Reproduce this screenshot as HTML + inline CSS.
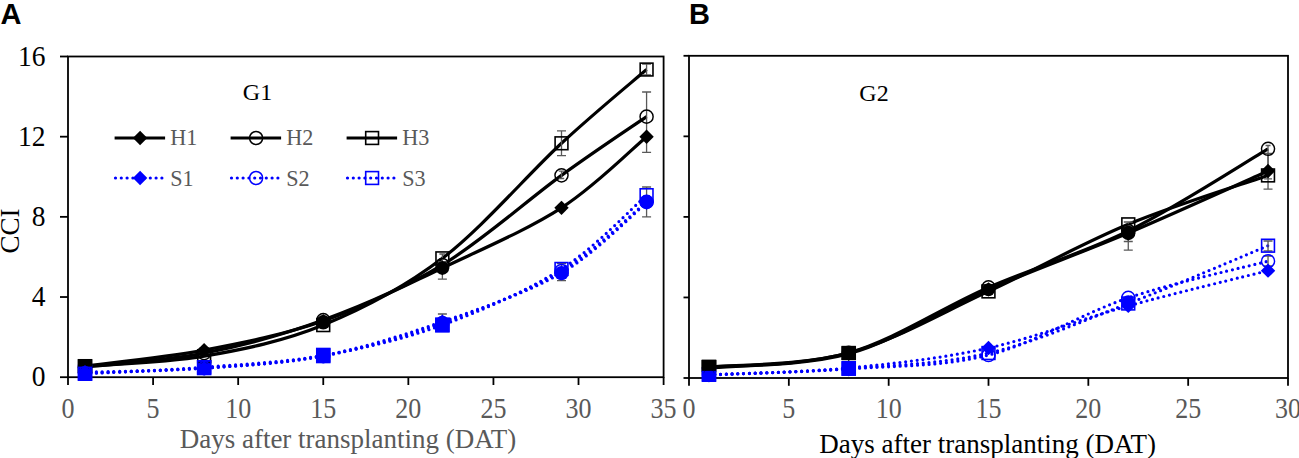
<!DOCTYPE html>
<html><head><meta charset="utf-8"><style>
html,body{margin:0;padding:0;background:#fff;width:1299px;height:458px;overflow:hidden}
svg{display:block}
text{font-family:"Liberation Serif",serif}
.yl{font-size:27.5px;text-anchor:end;fill:#000}
.xl{font-size:26px;text-anchor:middle;fill:#595959}
.xt{font-size:27px;text-anchor:middle}
.yt{font-size:27px;text-anchor:middle;fill:#000}
.g{font-size:24px;text-anchor:middle;fill:#000}
.lg{font-size:23.5px;fill:#595959}
.pl{font-family:"Liberation Sans",sans-serif;font-weight:bold;font-size:29px;fill:#000}
</style></head><body>
<svg width="1299" height="458" viewBox="0 0 1299 458">
<rect x="68" y="56.5" width="595.6" height="320.7" fill="none" stroke="#000" stroke-width="1.8"/>
<line x1="60" y1="377.2" x2="68" y2="377.2" stroke="#000" stroke-width="1.8"/>
<text transform="translate(45.4,386.2) scale(1,1.07)" class="yl">0</text>
<line x1="60" y1="297.02" x2="68" y2="297.02" stroke="#000" stroke-width="1.8"/>
<text transform="translate(45.4,306.02) scale(1,1.07)" class="yl">4</text>
<line x1="60" y1="216.85" x2="68" y2="216.85" stroke="#000" stroke-width="1.8"/>
<text transform="translate(45.4,225.85) scale(1,1.07)" class="yl">8</text>
<line x1="60" y1="136.68" x2="68" y2="136.68" stroke="#000" stroke-width="1.8"/>
<text transform="translate(45.4,145.68) scale(1,1.07)" class="yl">12</text>
<line x1="60" y1="56.5" x2="68" y2="56.5" stroke="#000" stroke-width="1.8"/>
<text transform="translate(45.4,65.5) scale(1,1.07)" class="yl">16</text>
<line x1="68" y1="377.2" x2="68" y2="385" stroke="#000" stroke-width="1.8"/>
<text transform="translate(68,417.5) scale(1,1.1)" class="xl">0</text>
<line x1="153.09" y1="377.2" x2="153.09" y2="385" stroke="#000" stroke-width="1.8"/>
<text transform="translate(153.09,417.5) scale(1,1.1)" class="xl">5</text>
<line x1="238.17" y1="377.2" x2="238.17" y2="385" stroke="#000" stroke-width="1.8"/>
<text transform="translate(238.17,417.5) scale(1,1.1)" class="xl">10</text>
<line x1="323.26" y1="377.2" x2="323.26" y2="385" stroke="#000" stroke-width="1.8"/>
<text transform="translate(323.26,417.5) scale(1,1.1)" class="xl">15</text>
<line x1="408.34" y1="377.2" x2="408.34" y2="385" stroke="#000" stroke-width="1.8"/>
<text transform="translate(408.34,417.5) scale(1,1.1)" class="xl">20</text>
<line x1="493.43" y1="377.2" x2="493.43" y2="385" stroke="#000" stroke-width="1.8"/>
<text transform="translate(493.43,417.5) scale(1,1.1)" class="xl">25</text>
<line x1="578.51" y1="377.2" x2="578.51" y2="385" stroke="#000" stroke-width="1.8"/>
<text transform="translate(578.51,417.5) scale(1,1.1)" class="xl">30</text>
<line x1="663.6" y1="377.2" x2="663.6" y2="385" stroke="#000" stroke-width="1.8"/>
<text transform="translate(663.6,417.5) scale(1,1.1)" class="xl">35</text>
<text x="348" y="447.5" class="xt" fill="#595959">Days after transplanting (DAT)</text>
<text transform="translate(19,231) rotate(-90)" class="yt">CCI</text>
<text x="257.5" y="99.6" class="g">G1</text>
<line x1="114.6" y1="138" x2="165.1" y2="138" stroke="#000" stroke-width="3.2"/>
<line x1="115.5" y1="178" x2="162.1" y2="178" fill="none" stroke="#0000ff" stroke-width="3.2" stroke-dasharray="0 5.8" stroke-linecap="round"/>
<path d="M140.1,130.8 L147.3,138 L140.1,145.2 L132.9,138 Z" fill="#000"/>
<path d="M140.1,170.8 L147.3,178 L140.1,185.2 L132.9,178 Z" fill="#0000ff"/>
<text transform="translate(170.2,145.1) scale(0.944,1)" class="lg">H1</text>
<text transform="translate(170.2,185.8) scale(0.944,1)" class="lg">S1</text>
<line x1="230.6" y1="138" x2="281.1" y2="138" stroke="#000" stroke-width="3.2"/>
<line x1="231.5" y1="178" x2="278.1" y2="178" fill="none" stroke="#0000ff" stroke-width="3.2" stroke-dasharray="0 5.8" stroke-linecap="round"/>
<circle cx="256.1" cy="138" r="6.55" fill="none" stroke="#000" stroke-width="1.45"/>
<circle cx="256.1" cy="178" r="6.55" fill="none" stroke="#0000ff" stroke-width="1.45"/>
<text transform="translate(286.2,145.1) scale(0.944,1)" class="lg">H2</text>
<text transform="translate(286.2,185.8) scale(0.944,1)" class="lg">S2</text>
<line x1="346.6" y1="138" x2="397.1" y2="138" stroke="#000" stroke-width="3.2"/>
<line x1="347.5" y1="178" x2="394.1" y2="178" fill="none" stroke="#0000ff" stroke-width="3.2" stroke-dasharray="0 5.8" stroke-linecap="round"/>
<rect x="365.7" y="131.6" width="12.8" height="12.8" fill="none" stroke="#000" stroke-width="1.6"/>
<rect x="365.7" y="171.6" width="12.8" height="12.8" fill="none" stroke="#0000ff" stroke-width="1.6"/>
<text transform="translate(402.2,145.1) scale(0.944,1)" class="lg">H3</text>
<text transform="translate(402.2,185.8) scale(0.944,1)" class="lg">S3</text>
<path d="M85.02,373.79 C104.87,372.69 164.43,370.25 204.14,367.18 C243.84,364.1 283.55,362.37 323.26,355.35 C362.96,348.34 402.67,339.48 442.38,325.09 C482.08,310.69 527.46,290.61 561.5,268.96 C595.53,247.32 632.4,207.5 646.58,195.2" fill="none" stroke="#0000ff" stroke-width="3.2" stroke-dasharray="0 5.8" stroke-linecap="round"/>
<path d="M85.02,373.19 C104.87,372.36 164.43,371.02 204.14,368.18 C243.84,365.34 283.55,363.67 323.26,356.15 C362.96,348.64 402.67,337.28 442.38,323.08 C482.08,308.88 527.46,291.18 561.5,270.97 C595.53,250.76 632.4,213.34 646.58,201.82" fill="none" stroke="#0000ff" stroke-width="3.2" stroke-dasharray="0 5.8" stroke-linecap="round"/>
<path d="M85.02,372.19 C104.87,371.52 164.43,370.95 204.14,368.18 C243.84,365.41 283.55,363.3 323.26,355.55 C362.96,347.8 402.67,335.44 442.38,321.68 C482.08,307.92 527.46,292.78 561.5,272.97 C595.53,253.16 632.4,214.51 646.58,202.82" fill="none" stroke="#0000ff" stroke-width="3.2" stroke-dasharray="0 5.8" stroke-linecap="round"/>
<path d="M85.02,366.18 C104.87,364.51 164.43,363 204.14,356.15 C243.84,349.31 283.55,341.39 323.26,325.09 C362.96,308.78 402.67,288.64 442.38,258.34 C482.08,228.04 527.46,174.76 561.5,143.29 C595.53,111.82 632.4,81.82 646.58,69.53" fill="none" stroke="#000" stroke-width="3.2" stroke-linejoin="round"/>
<path d="M85.02,367.18 C104.87,364.84 164.43,361 204.14,353.15 C243.84,345.3 283.55,334.77 323.26,320.08 C362.96,305.38 402.67,289.07 442.38,264.95 C482.08,240.84 527.46,200.08 561.5,175.36 C595.53,150.64 632.4,126.42 646.58,116.63" fill="none" stroke="#000" stroke-width="3.2" stroke-linejoin="round"/>
<path d="M85.02,366.18 C104.87,363.5 164.43,357.66 204.14,350.14 C243.84,342.62 283.55,334.77 323.26,321.08 C362.96,307.38 402.67,286.84 442.38,267.96 C482.08,249.09 527.46,229.71 561.5,207.83 C595.53,185.95 632.4,148.53 646.58,136.68" fill="none" stroke="#000" stroke-width="3.2" stroke-linejoin="round"/>
<path d="M646.58,92 V152.4 M642.08,92 H651.08 M642.08,152.4 H651.08" stroke="#595959" stroke-width="1.3" fill="none"/>
<path d="M561.5,130.8 V155.6 M557,130.8 H566 M557,155.6 H566" stroke="#595959" stroke-width="1.3" fill="none"/>
<path d="M442.38,262 V279.2 M437.88,262 H446.88 M437.88,279.2 H446.88" stroke="#595959" stroke-width="1.3" fill="none"/>
<path d="M442.38,314 V330 M437.88,314 H446.88 M437.88,330 H446.88" stroke="#595959" stroke-width="1.3" fill="none"/>
<path d="M646.58,187 V216.8 M642.08,187 H651.08 M642.08,216.8 H651.08" stroke="#595959" stroke-width="1.3" fill="none"/>
<path d="M646.58,64 V75 M642.08,64 H651.08 M642.08,75 H651.08" stroke="#595959" stroke-width="1.3" fill="none"/>
<path d="M561.5,263.5 V280.7 M557,263.5 H566 M557,280.7 H566" stroke="#595959" stroke-width="1.3" fill="none"/>
<path d="M561.5,171.2 V178.5 M558.8,171.2 H564.2 M558.8,178.5 H564.2" stroke="#595959" stroke-width="1.3" fill="none"/>
<path d="M442.38,254 V262 M439.38,254 H445.38 M439.38,262 H445.38" stroke="#595959" stroke-width="1.3" fill="none"/>
<rect x="77.72" y="359.2" width="14.6" height="13.8" fill="#000"/>
<rect x="77.72" y="364.6" width="14.6" height="16.2" fill="#0000ff"/>
<rect x="196.84" y="360" width="14.6" height="15.3" fill="#0000ff"/>
<circle cx="323.26" cy="322.3" r="7.2" fill="#000"/>
<rect x="315.96" y="347.7" width="14.6" height="15.6" fill="#0000ff"/>
<circle cx="442.38" cy="268" r="6.8" fill="#000"/>
<rect x="435.08" y="317.4" width="14.6" height="15.1" fill="#0000ff"/>
<circle cx="561.5" cy="273.1" r="7.2" fill="#0000ff"/>
<circle cx="646.58" cy="202" r="7.2" fill="#0000ff"/>
<rect x="78.62" y="359.78" width="12.8" height="12.8" fill="none" stroke="#000" stroke-width="1.6"/>
<rect x="197.74" y="349.75" width="12.8" height="12.8" fill="none" stroke="#000" stroke-width="1.6"/>
<rect x="316.86" y="318.69" width="12.8" height="12.8" fill="none" stroke="#000" stroke-width="1.6"/>
<rect x="435.98" y="251.94" width="12.8" height="12.8" fill="none" stroke="#000" stroke-width="1.6"/>
<rect x="555.1" y="136.89" width="12.8" height="12.8" fill="none" stroke="#000" stroke-width="1.6"/>
<rect x="640.18" y="63.13" width="12.8" height="12.8" fill="none" stroke="#000" stroke-width="1.6"/>
<circle cx="85.02" cy="367.18" r="6.55" fill="none" stroke="#000" stroke-width="1.45"/>
<circle cx="204.14" cy="353.15" r="6.55" fill="none" stroke="#000" stroke-width="1.45"/>
<circle cx="323.26" cy="320.08" r="6.55" fill="none" stroke="#000" stroke-width="1.45"/>
<circle cx="442.38" cy="264.95" r="6.55" fill="none" stroke="#000" stroke-width="1.45"/>
<circle cx="561.5" cy="175.36" r="6.55" fill="none" stroke="#000" stroke-width="1.45"/>
<circle cx="646.58" cy="116.63" r="6.55" fill="none" stroke="#000" stroke-width="1.45"/>
<path d="M85.02,358.98 L92.22,366.18 L85.02,373.38 L77.82,366.18 Z" fill="#000"/>
<path d="M204.14,342.94 L211.34,350.14 L204.14,357.34 L196.94,350.14 Z" fill="#000"/>
<path d="M323.26,313.88 L330.46,321.08 L323.26,328.28 L316.06,321.08 Z" fill="#000"/>
<path d="M442.38,260.76 L449.58,267.96 L442.38,275.16 L435.18,267.96 Z" fill="#000"/>
<path d="M561.5,200.63 L568.7,207.83 L561.5,215.03 L554.3,207.83 Z" fill="#000"/>
<path d="M646.58,129.48 L653.78,136.68 L646.58,143.88 L639.38,136.68 Z" fill="#000"/>
<rect x="78.62" y="367.39" width="12.8" height="12.8" fill="none" stroke="#0000ff" stroke-width="1.6"/>
<rect x="197.74" y="360.78" width="12.8" height="12.8" fill="none" stroke="#0000ff" stroke-width="1.6"/>
<rect x="316.86" y="348.95" width="12.8" height="12.8" fill="none" stroke="#0000ff" stroke-width="1.6"/>
<rect x="435.98" y="318.69" width="12.8" height="12.8" fill="none" stroke="#0000ff" stroke-width="1.6"/>
<rect x="555.1" y="262.56" width="12.8" height="12.8" fill="none" stroke="#0000ff" stroke-width="1.6"/>
<rect x="640.18" y="188.8" width="12.8" height="12.8" fill="none" stroke="#0000ff" stroke-width="1.6"/>
<circle cx="85.02" cy="373.19" r="6.55" fill="none" stroke="#0000ff" stroke-width="1.45"/>
<circle cx="204.14" cy="368.18" r="6.55" fill="none" stroke="#0000ff" stroke-width="1.45"/>
<circle cx="323.26" cy="356.15" r="6.55" fill="none" stroke="#0000ff" stroke-width="1.45"/>
<circle cx="442.38" cy="323.08" r="6.55" fill="none" stroke="#0000ff" stroke-width="1.45"/>
<circle cx="561.5" cy="270.97" r="6.55" fill="none" stroke="#0000ff" stroke-width="1.45"/>
<circle cx="646.58" cy="201.82" r="6.55" fill="none" stroke="#0000ff" stroke-width="1.45"/>
<path d="M85.02,364.99 L92.22,372.19 L85.02,379.39 L77.82,372.19 Z" fill="#0000ff"/>
<path d="M204.14,360.98 L211.34,368.18 L204.14,375.38 L196.94,368.18 Z" fill="#0000ff"/>
<path d="M323.26,348.35 L330.46,355.55 L323.26,362.75 L316.06,355.55 Z" fill="#0000ff"/>
<path d="M442.38,314.48 L449.58,321.68 L442.38,328.88 L435.18,321.68 Z" fill="#0000ff"/>
<path d="M561.5,265.77 L568.7,272.97 L561.5,280.17 L554.3,272.97 Z" fill="#0000ff"/>
<path d="M646.58,195.62 L653.78,202.82 L646.58,210.02 L639.38,202.82 Z" fill="#0000ff"/>
<rect x="689" y="55.8" width="599" height="322.2" fill="none" stroke="#000" stroke-width="1.8"/>
<line x1="683.5" y1="378" x2="689" y2="378" stroke="#000" stroke-width="1.8"/>
<line x1="683.5" y1="297.45" x2="689" y2="297.45" stroke="#000" stroke-width="1.8"/>
<line x1="683.5" y1="216.9" x2="689" y2="216.9" stroke="#000" stroke-width="1.8"/>
<line x1="683.5" y1="136.35" x2="689" y2="136.35" stroke="#000" stroke-width="1.8"/>
<line x1="683.5" y1="55.8" x2="689" y2="55.8" stroke="#000" stroke-width="1.8"/>
<line x1="689" y1="378" x2="689" y2="385.8" stroke="#000" stroke-width="1.8"/>
<text transform="translate(689,418.2) scale(1,1.1)" class="xl">0</text>
<line x1="788.83" y1="378" x2="788.83" y2="385.8" stroke="#000" stroke-width="1.8"/>
<text transform="translate(788.83,418.2) scale(1,1.1)" class="xl">5</text>
<line x1="888.67" y1="378" x2="888.67" y2="385.8" stroke="#000" stroke-width="1.8"/>
<text transform="translate(888.67,418.2) scale(1,1.1)" class="xl">10</text>
<line x1="988.5" y1="378" x2="988.5" y2="385.8" stroke="#000" stroke-width="1.8"/>
<text transform="translate(988.5,418.2) scale(1,1.1)" class="xl">15</text>
<line x1="1088.33" y1="378" x2="1088.33" y2="385.8" stroke="#000" stroke-width="1.8"/>
<text transform="translate(1088.33,418.2) scale(1,1.1)" class="xl">20</text>
<line x1="1188.17" y1="378" x2="1188.17" y2="385.8" stroke="#000" stroke-width="1.8"/>
<text transform="translate(1188.17,418.2) scale(1,1.1)" class="xl">25</text>
<line x1="1288" y1="378" x2="1288" y2="385.8" stroke="#000" stroke-width="1.8"/>
<text transform="translate(1288,418.2) scale(1,1.1)" class="xl">30</text>
<text x="987.7" y="452.6" class="xt" fill="#000">Days after transplanting (DAT)</text>
<text x="874" y="101.4" class="g">G2</text>
<path d="M708.97,374.78 C732.26,373.74 802.14,372.16 848.73,368.54 C895.32,364.91 941.91,363.87 988.5,353.03 C1035.09,342.19 1081.68,321.38 1128.27,303.49 C1174.86,285.6 1244.74,255.33 1268.03,245.7" fill="none" stroke="#0000ff" stroke-width="3.2" stroke-dasharray="0 5.8" stroke-linecap="round"/>
<path d="M708.97,374.98 C732.26,373.97 802.14,372.26 848.73,368.94 C895.32,365.62 941.91,366.89 988.5,355.04 C1035.09,343.2 1081.68,313.49 1128.27,297.85 C1174.86,282.21 1244.74,267.31 1268.03,261.2" fill="none" stroke="#0000ff" stroke-width="3.2" stroke-dasharray="0 5.8" stroke-linecap="round"/>
<path d="M708.97,374.78 C732.26,373.64 802.14,372.4 848.73,367.93 C895.32,363.47 941.91,358.33 988.5,348 C1035.09,337.66 1081.68,318.8 1128.27,305.91 C1174.86,293.02 1244.74,276.54 1268.03,270.67" fill="none" stroke="#0000ff" stroke-width="3.2" stroke-dasharray="0 5.8" stroke-linecap="round"/>
<path d="M708.97,367.13 C732.26,364.78 802.14,365.65 848.73,353.03 C895.32,340.41 941.91,312.86 988.5,291.41 C1035.09,269.96 1081.68,243.68 1128.27,224.35 C1174.86,205.02 1244.74,183.57 1268.03,175.42" fill="none" stroke="#000" stroke-width="3.2" stroke-linejoin="round"/>
<path d="M708.97,367.93 C732.26,365.41 802.14,366.25 848.73,352.83 C895.32,339.4 941.91,307.69 988.5,287.38 C1035.09,267.08 1081.68,254.09 1128.27,231 C1174.86,207.91 1244.74,162.53 1268.03,148.84" fill="none" stroke="#000" stroke-width="3.2" stroke-linejoin="round"/>
<path d="M708.97,367.13 C732.26,364.91 802.14,366.79 848.73,353.83 C895.32,340.88 941.91,309.53 988.5,289.39 C1035.09,269.26 1081.68,252.74 1128.27,233.01 C1174.86,213.28 1244.74,181.32 1268.03,170.99" fill="none" stroke="#000" stroke-width="3.2" stroke-linejoin="round"/>
<path d="M1268.03,145.5 V189.2 M1265.53,145.5 H1270.53 M1263.53,189.2 H1272.53" stroke="#595959" stroke-width="1.3" fill="none"/>
<path d="M1268.03,153.5 V178.8 M1264.03,153.5 H1272.03 M1264.03,178.8 H1272.03" stroke="#595959" stroke-width="1.3" fill="none"/>
<path d="M1128.27,227 V250.2 M1123.77,227 H1132.77 M1123.77,250.2 H1132.77" stroke="#595959" stroke-width="1.3" fill="none"/>
<path d="M1128.27,222 V241.5 M1123.77,222 H1132.77 M1123.77,241.5 H1132.77" stroke="#595959" stroke-width="1.3" fill="none"/>
<path d="M1268.03,241 V251 M1263.53,241 H1272.53 M1263.53,251 H1272.53" stroke="#595959" stroke-width="1.3" fill="none"/>
<path d="M1268.03,256 V266 M1263.53,256 H1272.53 M1263.53,266 H1272.53" stroke="#595959" stroke-width="1.3" fill="none"/>
<rect x="701.67" y="359.8" width="14.6" height="12.2" fill="#000"/>
<rect x="701.67" y="371" width="14.6" height="10.7" fill="#0000ff"/>
<rect x="841.43" y="346.2" width="14.6" height="13.8" fill="#000"/>
<rect x="841.43" y="361" width="14.6" height="14.9" fill="#0000ff"/>
<circle cx="988.5" cy="289.7" r="6.5" fill="#000"/>
<circle cx="1128.27" cy="233" r="7.2" fill="#000"/>
<circle cx="1128.27" cy="302" r="6.8" fill="#0000ff"/>
<rect x="702.57" y="360.73" width="12.8" height="12.8" fill="none" stroke="#000" stroke-width="1.6"/>
<rect x="842.33" y="346.63" width="12.8" height="12.8" fill="none" stroke="#000" stroke-width="1.6"/>
<rect x="982.1" y="285.01" width="12.8" height="12.8" fill="none" stroke="#000" stroke-width="1.6"/>
<rect x="1121.87" y="217.95" width="12.8" height="12.8" fill="none" stroke="#000" stroke-width="1.6"/>
<rect x="1261.63" y="169.02" width="12.8" height="12.8" fill="none" stroke="#000" stroke-width="1.6"/>
<circle cx="708.97" cy="367.93" r="6.55" fill="none" stroke="#000" stroke-width="1.45"/>
<circle cx="848.73" cy="352.83" r="6.55" fill="none" stroke="#000" stroke-width="1.45"/>
<circle cx="988.5" cy="287.38" r="6.55" fill="none" stroke="#000" stroke-width="1.45"/>
<circle cx="1128.27" cy="231" r="6.55" fill="none" stroke="#000" stroke-width="1.45"/>
<circle cx="1268.03" cy="148.84" r="6.55" fill="none" stroke="#000" stroke-width="1.45"/>
<path d="M708.97,359.93 L716.17,367.13 L708.97,374.33 L701.77,367.13 Z" fill="#000"/>
<path d="M848.73,346.63 L855.93,353.83 L848.73,361.03 L841.53,353.83 Z" fill="#000"/>
<path d="M988.5,282.19 L995.7,289.39 L988.5,296.59 L981.3,289.39 Z" fill="#000"/>
<path d="M1128.27,225.81 L1135.47,233.01 L1128.27,240.21 L1121.07,233.01 Z" fill="#000"/>
<path d="M1268.03,163.79 L1275.23,170.99 L1268.03,178.19 L1260.83,170.99 Z" fill="#000"/>
<rect x="702.57" y="368.38" width="12.8" height="12.8" fill="none" stroke="#0000ff" stroke-width="1.6"/>
<rect x="842.33" y="362.14" width="12.8" height="12.8" fill="none" stroke="#0000ff" stroke-width="1.6"/>
<rect x="982.1" y="346.63" width="12.8" height="12.8" fill="none" stroke="#0000ff" stroke-width="1.6"/>
<rect x="1121.87" y="297.09" width="12.8" height="12.8" fill="none" stroke="#0000ff" stroke-width="1.6"/>
<rect x="1261.63" y="239.3" width="12.8" height="12.8" fill="none" stroke="#0000ff" stroke-width="1.6"/>
<circle cx="708.97" cy="374.98" r="6.55" fill="none" stroke="#0000ff" stroke-width="1.45"/>
<circle cx="848.73" cy="368.94" r="6.55" fill="none" stroke="#0000ff" stroke-width="1.45"/>
<circle cx="988.5" cy="355.04" r="6.55" fill="none" stroke="#0000ff" stroke-width="1.45"/>
<circle cx="1128.27" cy="297.85" r="6.55" fill="none" stroke="#0000ff" stroke-width="1.45"/>
<circle cx="1268.03" cy="261.2" r="6.55" fill="none" stroke="#0000ff" stroke-width="1.45"/>
<path d="M708.97,367.58 L716.17,374.78 L708.97,381.98 L701.77,374.78 Z" fill="#0000ff"/>
<path d="M848.73,360.73 L855.93,367.93 L848.73,375.13 L841.53,367.93 Z" fill="#0000ff"/>
<path d="M988.5,340.8 L995.7,348 L988.5,355.2 L981.3,348 Z" fill="#0000ff"/>
<path d="M1128.27,298.71 L1135.47,305.91 L1128.27,313.11 L1121.07,305.91 Z" fill="#0000ff"/>
<path d="M1268.03,263.47 L1275.23,270.67 L1268.03,277.87 L1260.83,270.67 Z" fill="#0000ff"/>
<rect x="701.67" y="359.8" width="14.6" height="11" fill="#000"/>
<text x="0.5" y="24" class="pl">A</text>
<text x="689" y="24" class="pl">B</text>
</svg>
</body></html>
